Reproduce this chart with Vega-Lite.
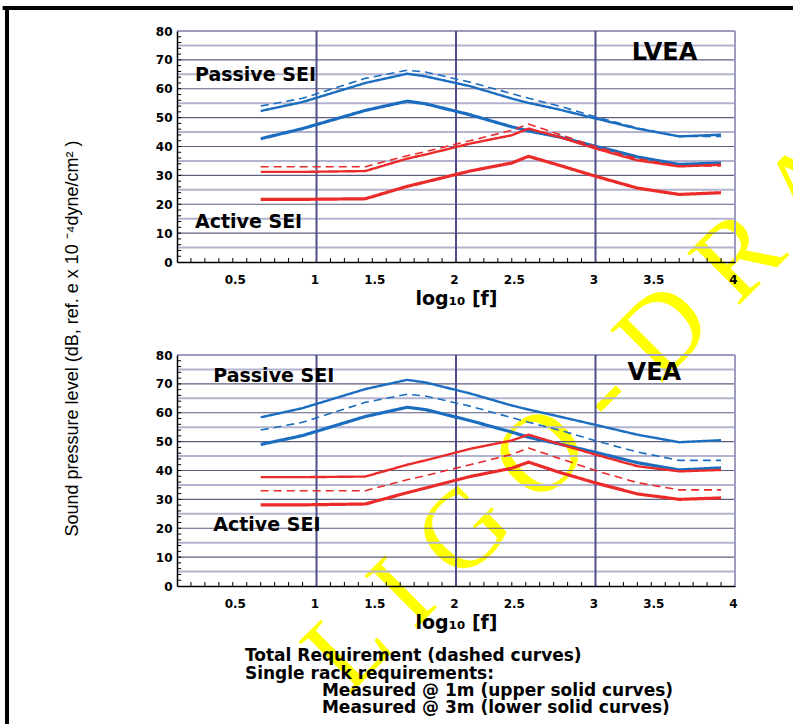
{
  "$schema": "https://vega.github.io/schema/vega-lite/v6.json",
  "autosize": {"type": "none"},
  "padding": {"left": 177, "top": 31, "right": 616, "bottom": 693},
  "background": "white",
  "config": {"view": {"stroke": null}, "axis": {"labelOverlap": false, "grid": false, "ticks": false, "tickCount": 100}},
  "title": {"text": "Sound pressure level (dB, ref. e x 10 ⁻⁴dyne/cm² )", "orient": "left", "anchor": "middle", "font": "Liberation Sans", "fontSize": 18, "fontWeight": "normal", "color": "black", "offset": -81, "dx": 14},
  "bounds": "flush",
  "spacing": 93,
  "datasets": {
    "lvea": [
      {"sei":"Passive","kind":"total","x":0.6,"y":54.0},{"sei":"Passive","kind":"total","x":0.9,"y":56.7},{"sei":"Passive","kind":"total","x":1.35,"y":63.6},{"sei":"Passive","kind":"total","x":1.65,"y":66.4},{"sei":"Passive","kind":"total","x":1.78,"y":65.8},{"sei":"Passive","kind":"total","x":2.1,"y":62.3},{"sei":"Passive","kind":"total","x":2.4,"y":58.3},{"sei":"Passive","kind":"total","x":2.52,"y":56.7},{"sei":"Passive","kind":"total","x":2.74,"y":54.0},{"sei":"Passive","kind":"total","x":3.0,"y":50.3},{"sei":"Passive","kind":"total","x":3.3,"y":46.4},{"sei":"Passive","kind":"total","x":3.6,"y":43.5},{"sei":"Passive","kind":"total","x":3.9,"y":43.5},
      {"sei":"Passive","kind":"1m","x":0.6,"y":52.3},{"sei":"Passive","kind":"1m","x":0.9,"y":55.4},{"sei":"Passive","kind":"1m","x":1.35,"y":62.0},{"sei":"Passive","kind":"1m","x":1.65,"y":65.2},{"sei":"Passive","kind":"1m","x":1.78,"y":64.3},{"sei":"Passive","kind":"1m","x":2.1,"y":60.9},{"sei":"Passive","kind":"1m","x":2.4,"y":56.6},{"sei":"Passive","kind":"1m","x":2.52,"y":55.1},{"sei":"Passive","kind":"1m","x":2.74,"y":52.8},{"sei":"Passive","kind":"1m","x":3.0,"y":49.7},{"sei":"Passive","kind":"1m","x":3.3,"y":46.2},{"sei":"Passive","kind":"1m","x":3.6,"y":43.5},{"sei":"Passive","kind":"1m","x":3.9,"y":44.1},
      {"sei":"Passive","kind":"3m","x":0.6,"y":42.7},{"sei":"Passive","kind":"3m","x":0.9,"y":46.2},{"sei":"Passive","kind":"3m","x":1.35,"y":52.5},{"sei":"Passive","kind":"3m","x":1.65,"y":55.7},{"sei":"Passive","kind":"3m","x":1.78,"y":54.8},{"sei":"Passive","kind":"3m","x":2.1,"y":51.0},{"sei":"Passive","kind":"3m","x":2.4,"y":46.8},{"sei":"Passive","kind":"3m","x":2.52,"y":45.4},{"sei":"Passive","kind":"3m","x":2.74,"y":43.3},{"sei":"Passive","kind":"3m","x":3.0,"y":40.1},{"sei":"Passive","kind":"3m","x":3.3,"y":36.4},{"sei":"Passive","kind":"3m","x":3.6,"y":33.8},{"sei":"Passive","kind":"3m","x":3.9,"y":34.3},
      {"sei":"Active","kind":"total","x":0.6,"y":33.0},{"sei":"Active","kind":"total","x":0.9,"y":33.0},{"sei":"Active","kind":"total","x":1.35,"y":33.0},{"sei":"Active","kind":"total","x":1.65,"y":36.8},{"sei":"Active","kind":"total","x":1.78,"y":38.2},{"sei":"Active","kind":"total","x":2.1,"y":42.0},{"sei":"Active","kind":"total","x":2.4,"y":45.6},{"sei":"Active","kind":"total","x":2.52,"y":47.8},{"sei":"Active","kind":"total","x":2.74,"y":44.2},{"sei":"Active","kind":"total","x":3.0,"y":40.0},{"sei":"Active","kind":"total","x":3.3,"y":35.8},{"sei":"Active","kind":"total","x":3.6,"y":33.3},{"sei":"Active","kind":"total","x":3.9,"y":33.3},
      {"sei":"Active","kind":"1m","x":0.6,"y":31.2},{"sei":"Active","kind":"1m","x":0.9,"y":31.2},{"sei":"Active","kind":"1m","x":1.35,"y":31.5},{"sei":"Active","kind":"1m","x":1.65,"y":35.8},{"sei":"Active","kind":"1m","x":1.78,"y":37.2},{"sei":"Active","kind":"1m","x":2.1,"y":41.0},{"sei":"Active","kind":"1m","x":2.4,"y":43.9},{"sei":"Active","kind":"1m","x":2.52,"y":46.2},{"sei":"Active","kind":"1m","x":2.74,"y":43.3},{"sei":"Active","kind":"1m","x":3.0,"y":39.3},{"sei":"Active","kind":"1m","x":3.3,"y":35.2},{"sei":"Active","kind":"1m","x":3.6,"y":33.1},{"sei":"Active","kind":"1m","x":3.9,"y":33.7},
      {"sei":"Active","kind":"3m","x":0.6,"y":21.7},{"sei":"Active","kind":"3m","x":0.9,"y":21.7},{"sei":"Active","kind":"3m","x":1.35,"y":21.9},{"sei":"Active","kind":"3m","x":1.65,"y":26.2},{"sei":"Active","kind":"3m","x":1.78,"y":27.7},{"sei":"Active","kind":"3m","x":2.1,"y":31.5},{"sei":"Active","kind":"3m","x":2.4,"y":34.3},{"sei":"Active","kind":"3m","x":2.52,"y":36.6},{"sei":"Active","kind":"3m","x":2.74,"y":33.5},{"sei":"Active","kind":"3m","x":3.0,"y":29.7},{"sei":"Active","kind":"3m","x":3.3,"y":25.6},{"sei":"Active","kind":"3m","x":3.6,"y":23.4},{"sei":"Active","kind":"3m","x":3.9,"y":24.0}
    ],
    "vea": [
      {"sei":"Passive","kind":"total","x":0.6,"y":54.0},{"sei":"Passive","kind":"total","x":0.9,"y":56.7},{"sei":"Passive","kind":"total","x":1.35,"y":63.6},{"sei":"Passive","kind":"total","x":1.65,"y":66.4},{"sei":"Passive","kind":"total","x":1.78,"y":65.8},{"sei":"Passive","kind":"total","x":2.1,"y":62.3},{"sei":"Passive","kind":"total","x":2.4,"y":58.3},{"sei":"Passive","kind":"total","x":2.52,"y":56.7},{"sei":"Passive","kind":"total","x":2.74,"y":54.0},{"sei":"Passive","kind":"total","x":3.0,"y":50.3},{"sei":"Passive","kind":"total","x":3.3,"y":46.4},{"sei":"Passive","kind":"total","x":3.6,"y":43.5},{"sei":"Passive","kind":"total","x":3.9,"y":43.5},
      {"sei":"Passive","kind":"1m","x":0.6,"y":58.4},{"sei":"Passive","kind":"1m","x":0.9,"y":61.6},{"sei":"Passive","kind":"1m","x":1.35,"y":68.2},{"sei":"Passive","kind":"1m","x":1.65,"y":71.4},{"sei":"Passive","kind":"1m","x":1.78,"y":70.5},{"sei":"Passive","kind":"1m","x":2.1,"y":66.7},{"sei":"Passive","kind":"1m","x":2.4,"y":62.5},{"sei":"Passive","kind":"1m","x":2.52,"y":61.1},{"sei":"Passive","kind":"1m","x":2.74,"y":58.7},{"sei":"Passive","kind":"1m","x":3.0,"y":55.8},{"sei":"Passive","kind":"1m","x":3.3,"y":52.4},{"sei":"Passive","kind":"1m","x":3.6,"y":49.8},{"sei":"Passive","kind":"1m","x":3.9,"y":50.5},
      {"sei":"Passive","kind":"3m","x":0.6,"y":49.0},{"sei":"Passive","kind":"3m","x":0.9,"y":52.1},{"sei":"Passive","kind":"3m","x":1.35,"y":58.7},{"sei":"Passive","kind":"3m","x":1.65,"y":61.9},{"sei":"Passive","kind":"3m","x":1.78,"y":61.1},{"sei":"Passive","kind":"3m","x":2.1,"y":57.3},{"sei":"Passive","kind":"3m","x":2.4,"y":53.3},{"sei":"Passive","kind":"3m","x":2.52,"y":51.5},{"sei":"Passive","kind":"3m","x":2.74,"y":49.2},{"sei":"Passive","kind":"3m","x":3.0,"y":46.3},{"sei":"Passive","kind":"3m","x":3.3,"y":42.7},{"sei":"Passive","kind":"3m","x":3.6,"y":40.2},{"sei":"Passive","kind":"3m","x":3.9,"y":40.9},
      {"sei":"Active","kind":"total","x":0.6,"y":33.0},{"sei":"Active","kind":"total","x":0.9,"y":33.0},{"sei":"Active","kind":"total","x":1.35,"y":33.0},{"sei":"Active","kind":"total","x":1.65,"y":36.8},{"sei":"Active","kind":"total","x":1.78,"y":38.2},{"sei":"Active","kind":"total","x":2.1,"y":42.0},{"sei":"Active","kind":"total","x":2.4,"y":45.6},{"sei":"Active","kind":"total","x":2.52,"y":47.8},{"sei":"Active","kind":"total","x":2.74,"y":44.2},{"sei":"Active","kind":"total","x":3.0,"y":40.0},{"sei":"Active","kind":"total","x":3.3,"y":35.8},{"sei":"Active","kind":"total","x":3.6,"y":33.3},{"sei":"Active","kind":"total","x":3.9,"y":33.3},
      {"sei":"Active","kind":"1m","x":0.6,"y":37.7},{"sei":"Active","kind":"1m","x":0.9,"y":37.7},{"sei":"Active","kind":"1m","x":1.35,"y":37.9},{"sei":"Active","kind":"1m","x":1.65,"y":42.0},{"sei":"Active","kind":"1m","x":1.78,"y":43.5},{"sei":"Active","kind":"1m","x":2.1,"y":47.5},{"sei":"Active","kind":"1m","x":2.4,"y":50.4},{"sei":"Active","kind":"1m","x":2.52,"y":52.4},{"sei":"Active","kind":"1m","x":2.74,"y":49.2},{"sei":"Active","kind":"1m","x":3.0,"y":45.5},{"sei":"Active","kind":"1m","x":3.3,"y":41.5},{"sei":"Active","kind":"1m","x":3.6,"y":39.7},{"sei":"Active","kind":"1m","x":3.9,"y":40.2},
      {"sei":"Active","kind":"3m","x":0.6,"y":28.1},{"sei":"Active","kind":"3m","x":0.9,"y":28.1},{"sei":"Active","kind":"3m","x":1.35,"y":28.4},{"sei":"Active","kind":"3m","x":1.65,"y":32.3},{"sei":"Active","kind":"3m","x":1.78,"y":33.9},{"sei":"Active","kind":"3m","x":2.1,"y":37.9},{"sei":"Active","kind":"3m","x":2.4,"y":40.8},{"sei":"Active","kind":"3m","x":2.52,"y":42.9},{"sei":"Active","kind":"3m","x":2.74,"y":39.4},{"sei":"Active","kind":"3m","x":3.0,"y":35.7},{"sei":"Active","kind":"3m","x":3.3,"y":31.9},{"sei":"Active","kind":"3m","x":3.6,"y":30.0},{"sei":"Active","kind":"3m","x":3.9,"y":30.5}
    ],
    "hgrid": [{"y":5},{"y":10},{"y":15},{"y":20},{"y":25},{"y":30},{"y":35},{"y":40},{"y":45},{"y":50},{"y":55},{"y":60},{"y":65},{"y":70},{"y":75},{"y":80}],
    "vgrid": [{"x":1},{"x":2},{"x":3},{"x":4}],
    "xticks": [{"x":0.1},{"x":0.2},{"x":0.3},{"x":0.4},{"x":0.5},{"x":0.6},{"x":0.7},{"x":0.8},{"x":0.9},{"x":1.1},{"x":1.2},{"x":1.3},{"x":1.4},{"x":1.5},{"x":1.6},{"x":1.7},{"x":1.8},{"x":1.9},{"x":2.1},{"x":2.2},{"x":2.3},{"x":2.4},{"x":2.5},{"x":2.6},{"x":2.7},{"x":2.8},{"x":2.9},{"x":3.1},{"x":3.2},{"x":3.3},{"x":3.4},{"x":3.5},{"x":3.6},{"x":3.7},{"x":3.8},{"x":3.9}],
    "yticks": [{"y":2},{"y":4},{"y":6},{"y":8},{"y":10},{"y":12},{"y":14},{"y":16},{"y":18},{"y":20},{"y":22},{"y":24},{"y":26},{"y":28},{"y":30},{"y":32},{"y":34},{"y":36},{"y":38},{"y":40},{"y":42},{"y":44},{"y":46},{"y":48},{"y":50},{"y":52},{"y":54},{"y":56},{"y":58},{"y":60},{"y":62},{"y":64},{"y":66},{"y":68},{"y":70},{"y":72},{"y":74},{"y":76},{"y":78}]
  },
  "vconcat": [
    {
      "width": 558,
      "height": 231,
      "layer": [
        {
          "data": {"values": [{"x": 1.228, "y": -150.3, "t": "L I G O - D R A F T"}]},
          "mark": {"type": "text", "align": "left", "baseline": "alphabetic", "angle": -45, "font": "Liberation Serif", "fontSize": 112, "color": "#ffff00"},
          "encoding": {
            "x": {"field": "x", "type": "quantitative", "scale": {"domain": [0, 4], "nice": false, "zero": false}},
            "y": {"field": "y", "type": "quantitative", "scale": {"domain": [0, 80], "nice": false}},
            "text": {"field": "t"}
          }
        },
        {
          "data": {"values": [{}]},
          "mark": {"type": "rule", "color": "black", "strokeWidth": 4, "strokeCap": "butt"},
          "encoding": {"x": {"datum": -1.25, "type": "quantitative"}, "x2": {"datum": 4.6}, "y": {"datum": 87.97, "type": "quantitative"}}
        },
        {
          "data": {"values": [{}]},
          "mark": {"type": "rule", "color": "black", "strokeWidth": 4, "strokeCap": "butt"},
          "encoding": {"x": {"datum": -1.2186, "type": "quantitative"}, "y": {"datum": 88.66, "type": "quantitative"}, "y2": {"datum": -160}}
        },
        {
          "data": {"name": "hgrid"},
          "mark": {"type": "rule"},
          "encoding": {
            "y": {"field": "y", "type": "quantitative"},
            "color": {"condition": [{"test": "datum.y === 80", "value": "#9c9cc0"}, {"test": "datum.y % 10 === 0", "value": "#5e5e80"}], "value": "#b3b3d0"},
            "strokeWidth": {"condition": [{"test": "datum.y === 80", "value": 2}, {"test": "datum.y % 10 === 0", "value": 1.2}], "value": 2}
          }
        },
        {
          "data": {"name": "vgrid"},
          "mark": {"type": "rule"},
          "encoding": {
            "x": {"field": "x", "type": "quantitative"},
            "color": {"condition": {"test": "datum.x === 4", "value": "#9c9cc0"}, "value": "#4e4e88"},
            "strokeWidth": {"value": 2}
          }
        },
        {
          "data": {"name": "xticks"},
          "mark": {"type": "rule", "color": "black", "strokeWidth": 1},
          "encoding": {"x": {"field": "x", "type": "quantitative"}, "y": {"datum": 0, "type": "quantitative"}, "y2": {"datum": 1.4}}
        },
        {
          "data": {"name": "yticks"},
          "mark": {"type": "rule", "color": "black", "strokeWidth": 1},
          "encoding": {"y": {"field": "y", "type": "quantitative"}, "x": {"datum": 0, "type": "quantitative"}, "x2": {"datum": 0.03}}
        },
        {
          "data": {"name": "lvea"},
          "mark": {"type": "line", "strokeJoin": "round"},
          "encoding": {
            "x": {"field": "x", "type": "quantitative", "scale": {"domain": [0, 4], "nice": false, "zero": false},
              "axis": {"values": [0.5, 1, 1.5, 2, 2.5, 3, 3.5, 4], "tickCount": 100, "labelExpr": "toString(datum.value)",
                "labelOffset": {"condition": {"test": "datum.value % 1 !== 0", "value": -12}, "value": -2},
                "zindex": 1, "grid": false, "ticks": false, "domainColor": "black", "domainWidth": 1.5,
                "labelFont": "DejaVu Sans", "labelFontWeight": "bold", "labelFontSize": 12, "labelColor": "black", "labelPadding": 12, "labelOverlap": false, "labelBound": false, "labelFlush": false,
                "title": "log₁₀ [f]", "titleFont": "DejaVu Sans", "titleFontWeight": "bold", "titleFontSize": 19, "titleColor": "black", "titlePadding": 4}},
            "y": {"field": "y", "type": "quantitative", "scale": {"domain": [0, 80], "nice": false},
              "axis": {"values": [0, 10, 20, 30, 40, 50, 60, 70, 80], "tickCount": 100, "labelExpr": "toString(datum.value)",
                "zindex": 1, "grid": false, "ticks": false, "domainColor": "black", "domainWidth": 1.5,
                "labelFont": "DejaVu Sans", "labelFontWeight": "bold", "labelFontSize": 12, "labelColor": "black", "labelPadding": 5, "labelOverlap": false, "labelBound": false, "labelFlush": false,
                "title": null}},
            "color": {"field": "sei", "type": "nominal", "scale": {"domain": ["Passive", "Active"], "range": ["#1b6dbf", "#eb2a2a"]}, "legend": null},
            "strokeDash": {"field": "kind", "type": "nominal", "scale": {"domain": ["total", "1m", "3m"], "range": [[8, 5], [1, 0], [1, 0]]}, "legend": null},
            "strokeWidth": {"field": "kind", "type": "nominal", "scale": {"domain": ["total", "1m", "3m"], "range": [1.6, 3.2, 3.2]}, "legend": null}
          }
        },
        {
          "data": {"values": [{"x": 0.129, "y": 64.8, "label": "Passive SEI"}, {"x": 0.129, "y": 13.9, "label": "Active SEI"}]},
          "mark": {"type": "text", "align": "left", "baseline": "middle", "font": "DejaVu Sans", "fontWeight": "bold", "fontSize": 19, "color": "black"},
          "encoding": {"x": {"field": "x", "type": "quantitative"}, "y": {"field": "y", "type": "quantitative"}, "text": {"field": "label"}}
        },
        {
          "data": {"values": [{"x": 3.26, "y": 72.5, "label": "LVEA"}]},
          "mark": {"type": "text", "align": "left", "baseline": "middle", "font": "DejaVu Sans", "fontWeight": "bold", "fontSize": 24, "color": "black"},
          "encoding": {"x": {"field": "x", "type": "quantitative"}, "y": {"field": "y", "type": "quantitative"}, "text": {"field": "label"}}
        }
      ]
    },
    {
      "width": 558,
      "height": 231,
      "layer": [
        {
          "data": {"name": "hgrid"},
          "mark": {"type": "rule"},
          "encoding": {
            "y": {"field": "y", "type": "quantitative", "scale": {"domain": [0, 80], "nice": false}},
            "color": {"condition": [{"test": "datum.y === 80", "value": "#9c9cc0"}, {"test": "datum.y % 10 === 0", "value": "#5e5e80"}], "value": "#b3b3d0"},
            "strokeWidth": {"condition": [{"test": "datum.y === 80", "value": 2}, {"test": "datum.y % 10 === 0", "value": 1.2}], "value": 2}
          }
        },
        {
          "data": {"name": "vgrid"},
          "mark": {"type": "rule"},
          "encoding": {
            "x": {"field": "x", "type": "quantitative", "scale": {"domain": [0, 4], "nice": false, "zero": false}},
            "color": {"condition": {"test": "datum.x === 4", "value": "#9c9cc0"}, "value": "#4e4e88"},
            "strokeWidth": {"value": 2}
          }
        },
        {
          "data": {"name": "xticks"},
          "mark": {"type": "rule", "color": "black", "strokeWidth": 1},
          "encoding": {"x": {"field": "x", "type": "quantitative"}, "y": {"datum": 0, "type": "quantitative"}, "y2": {"datum": 1.4}}
        },
        {
          "data": {"name": "yticks"},
          "mark": {"type": "rule", "color": "black", "strokeWidth": 1},
          "encoding": {"y": {"field": "y", "type": "quantitative"}, "x": {"datum": 0, "type": "quantitative"}, "x2": {"datum": 0.03}}
        },
        {
          "data": {"name": "vea"},
          "mark": {"type": "line", "strokeJoin": "round"},
          "encoding": {
            "x": {"field": "x", "type": "quantitative", "scale": {"domain": [0, 4], "nice": false, "zero": false},
              "axis": {"values": [0.5, 1, 1.5, 2, 2.5, 3, 3.5, 4], "tickCount": 100, "labelExpr": "toString(datum.value)",
                "labelOffset": {"condition": {"test": "datum.value % 1 !== 0", "value": -12}, "value": -2},
                "zindex": 1, "grid": false, "ticks": false, "domainColor": "black", "domainWidth": 1.5,
                "labelFont": "DejaVu Sans", "labelFontWeight": "bold", "labelFontSize": 12, "labelColor": "black", "labelPadding": 12, "labelOverlap": false, "labelBound": false, "labelFlush": false,
                "title": "log₁₀ [f]", "titleFont": "DejaVu Sans", "titleFontWeight": "bold", "titleFontSize": 19, "titleColor": "black", "titlePadding": 4}},
            "y": {"field": "y", "type": "quantitative", "scale": {"domain": [0, 80], "nice": false},
              "axis": {"values": [0, 10, 20, 30, 40, 50, 60, 70, 80], "tickCount": 100, "labelExpr": "toString(datum.value)",
                "zindex": 1, "grid": false, "ticks": false, "domainColor": "black", "domainWidth": 1.5,
                "labelFont": "DejaVu Sans", "labelFontWeight": "bold", "labelFontSize": 12, "labelColor": "black", "labelPadding": 5, "labelOverlap": false, "labelBound": false, "labelFlush": false,
                "title": null}},
            "color": {"field": "sei", "type": "nominal", "scale": {"domain": ["Passive", "Active"], "range": ["#1b6dbf", "#eb2a2a"]}, "legend": null},
            "strokeDash": {"field": "kind", "type": "nominal", "scale": {"domain": ["total", "1m", "3m"], "range": [[8, 5], [1, 0], [1, 0]]}, "legend": null},
            "strokeWidth": {"field": "kind", "type": "nominal", "scale": {"domain": ["total", "1m", "3m"], "range": [1.6, 3.2, 3.2]}, "legend": null}
          }
        },
        {
          "data": {"values": [{"x": 0.26, "y": 72.7, "label": "Passive SEI"}, {"x": 0.26, "y": 21.1, "label": "Active SEI"}]},
          "mark": {"type": "text", "align": "left", "baseline": "middle", "font": "DejaVu Sans", "fontWeight": "bold", "fontSize": 19, "color": "black"},
          "encoding": {"x": {"field": "x", "type": "quantitative"}, "y": {"field": "y", "type": "quantitative"}, "text": {"field": "label"}}
        },
        {
          "data": {"values": [{"x": 3.23, "y": 73.9, "label": "VEA"}]},
          "mark": {"type": "text", "align": "left", "baseline": "middle", "font": "DejaVu Sans", "fontWeight": "bold", "fontSize": 24, "color": "black"},
          "encoding": {"x": {"field": "x", "type": "quantitative"}, "y": {"field": "y", "type": "quantitative"}, "text": {"field": "label"}}
        },
        {
          "data": {"values": [
            {"x": 0.487, "y": -24.2, "label": "Total Requirement (dashed curves)"},
            {"x": 0.487, "y": -30.4, "label": "Single rack requirements:"},
            {"x": 1.039, "y": -36.3, "label": "Measured @ 1m (upper solid curves)"},
            {"x": 1.039, "y": -42.1, "label": "Measured @ 3m (lower solid curves)"}
          ]},
          "mark": {"type": "text", "align": "left", "baseline": "middle", "font": "DejaVu Sans", "fontWeight": "bold", "fontSize": 17, "color": "black"},
          "encoding": {"x": {"field": "x", "type": "quantitative"}, "y": {"field": "y", "type": "quantitative"}, "text": {"field": "label"}}
        }
      ]
    }
  ]
}
